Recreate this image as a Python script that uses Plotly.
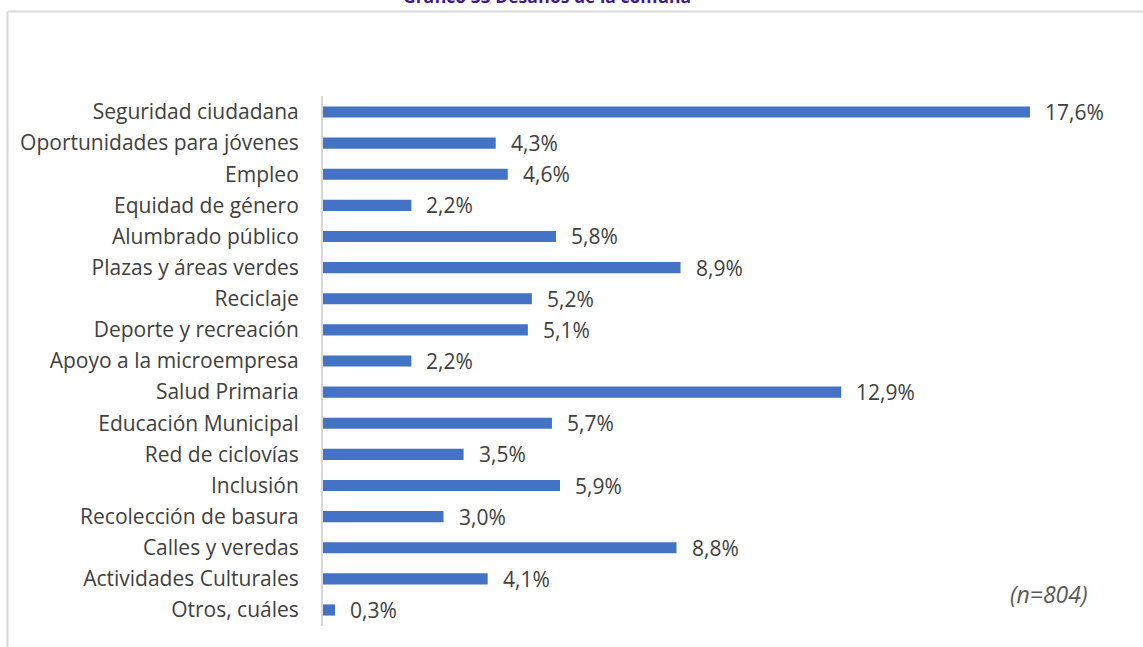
import plotly.graph_objects as go

categories = [
    "Seguridad ciudadana", "Oportunidades para jóvenes", "Empleo", "Equidad de género",
    "Alumbrado público", "Plazas y áreas verdes", "Reciclaje", "Deporte y recreación",
    "Apoyo a la microempresa", "Salud Primaria", "Educación Municipal", "Red de ciclovías",
    "Inclusión", "Recolección de basura", "Calles y veredas", "Actividades Culturales",
    "Otros, cuáles",
]
values = [17.6, 4.3, 4.6, 2.2, 5.8, 8.9, 5.2, 5.1, 2.2, 12.9, 5.7, 3.5, 5.9, 3.0, 8.8, 4.1, 0.3]
labels = [f"{v:.1f}%".replace(".", ",") for v in values]

title_text = "Gráfico 33 Desafíos de la comuna"
note_text = "(n=804)"

W, H = 1143, 647
FONT = "Open Sans"
TEXT_COLOR = "#404040"

x0_px = 323
px_per_unit = 40.17
xmax = 20
x_dom_end = (x0_px + xmax * px_per_unit) / W
y_top_px, y_bot_px = 96, 626

fig = go.Figure()
fig.add_trace(go.Bar(
    x=values, y=categories, orientation="h",
    marker=dict(color="#4472C4", line=dict(width=0)),
    width=0.36, hoverinfo="skip",
))

for c, v, t in zip(categories, values, labels):
    fig.add_annotation(x=v, y=c, xref="x", yref="y", text=t, showarrow=False,
                       xanchor="left", yanchor="middle", xshift=13,
                       font=dict(family=FONT, size=21, color=TEXT_COLOR))

fig.add_annotation(x=1049 / W, y=1 - 594 / H, xref="paper", yref="paper",
                   text=f"<i>{note_text}</i>", showarrow=False,
                   xanchor="center", yanchor="middle",
                   font=dict(family=FONT, size=23, color="#595959"))

fig.add_annotation(x=547 / W, y=1 - 10 / H, xref="paper", yref="paper",
                   text=f"<b>{title_text}</b>", showarrow=False,
                   xanchor="center", yanchor="bottom",
                   font=dict(family=FONT, size=17.5, color="#3E1A8E"))

# chart frame
fig.add_shape(type="line", xref="paper", yref="paper",
              x0=7.5 / W, x1=1.0, y0=1 - 11.5 / H, y1=1 - 11.5 / H,
              line=dict(color="#D9D9D9", width=2))
fig.add_shape(type="line", xref="paper", yref="paper",
              x0=7.5 / W, x1=7.5 / W, y0=0, y1=1 - 11.5 / H,
              line=dict(color="#D9D9D9", width=2))

fig.update_layout(
    width=W, height=H,
    margin=dict(l=0, r=0, t=0, b=0),
    paper_bgcolor="white", plot_bgcolor="white",
    showlegend=False,
    xaxis=dict(domain=[x0_px / W, x_dom_end], range=[0, xmax], visible=False,
               fixedrange=True),
    yaxis=dict(domain=[1 - y_bot_px / H, 1 - y_top_px / H], autorange="reversed",
               showline=True, linecolor="#D9D9D9", linewidth=2,
               showgrid=False, zeroline=False, ticks="",
               ticklabelstandoff=18,
               tickfont=dict(family=FONT, size=21, color=TEXT_COLOR),
               fixedrange=True),
    bargap=0.64,
)

fig.write_html("out.html", config={"displayModeBar": False},
               post_script="document.body.style.margin='0';document.body.style.overflow='hidden';")
